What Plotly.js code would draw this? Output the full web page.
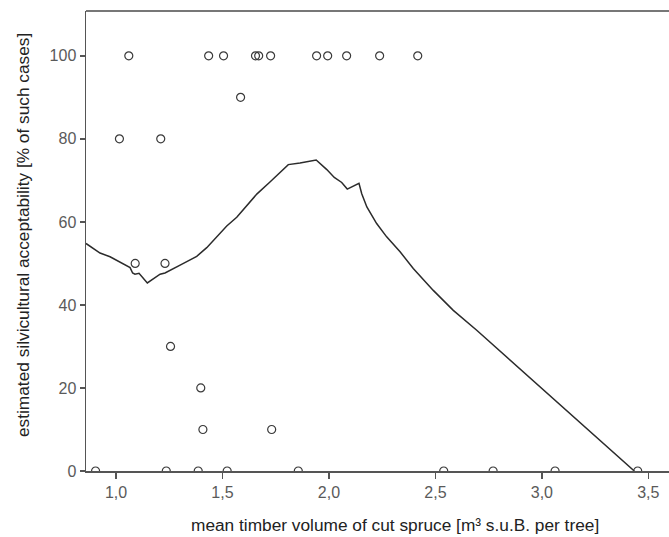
<!DOCTYPE html>
<html>
<head>
<meta charset="utf-8">
<script src="https://cdn.plot.ly/plotly-3.0.1.min.js"></script>
<style>html,body{margin:0;padding:0;background:#fff;}#chart{width:669px;height:537px;}</style>
</head>
<body>
<div id="chart"></div>
<script>
// observed cases: mean timber volume vs. acceptability
const pointVolume = [1.06, 1.435, 1.505, 1.655, 1.67, 1.726, 1.942, 1.994, 2.083, 2.238, 2.417,
  1.585, 1.016, 1.21, 1.09, 1.23, 1.256, 1.398, 1.408, 1.731,
  0.904, 1.236, 1.386, 1.522, 1.856, 2.539, 2.771, 3.062, 3.45];
const pointAccept = [100, 100, 100, 100, 100, 100, 100, 100, 100, 100, 100,
  90, 80, 80, 50, 50, 30, 20, 10, 10,
  0, 0, 0, 0, 0, 0, 0, 0, 0];

// fitted (smoothed) curve
const fitVolume = [0.859, 0.925, 0.972, 1.034, 1.066, 1.078, 1.089, 1.108, 1.117, 1.147, 1.207, 1.230,
  1.301, 1.379, 1.426, 1.473, 1.520, 1.567, 1.614, 1.661, 1.723, 1.809, 1.864, 1.940, 1.990, 2.025,
  2.060, 2.086, 2.141, 2.154, 2.178, 2.224, 2.271, 2.334, 2.396, 2.490, 2.584, 2.694, 3.434];
const fitAccept = [54.8, 52.5, 51.6, 50.0, 49.0, 47.7, 47.4, 47.6, 47.1, 45.3, 47.4, 47.7,
  49.6, 51.7, 53.8, 56.4, 59.0, 61.1, 63.8, 66.7, 69.6, 73.8, 74.2, 74.9, 72.6, 70.7,
  69.5, 67.9, 69.3, 66.8, 63.6, 59.6, 56.4, 52.8, 48.8, 43.5, 38.7, 33.9, 0.0];

const xTicks = [1.0, 1.5, 2.0, 2.5, 3.0, 3.5];
const yTicks = [0, 20, 40, 60, 80, 100];
const xTitle = 'mean timber volume of cut spruce [m³ s.u.B. per tree]';
const yTitle = 'estimated silvicultural acceptability [% of such cases]';

const traces = [
  {
    x: fitVolume, y: fitAccept, type: 'scatter', mode: 'lines',
    line: {color: '#2b2b2b', width: 1.5}, hoverinfo: 'skip', showlegend: false
  },
  {
    x: pointVolume, y: pointAccept, type: 'scatter', mode: 'markers',
    marker: {symbol: 'circle-open', size: 8, color: '#3a3a3a', line: {width: 1.2, color: '#3a3a3a'}},
    showlegend: false
  }
];

const tickFont = {family: 'Liberation Sans, Arial, sans-serif', size: 16, color: '#5a5a5a'};
const titleFont = {family: 'Liberation Sans, Arial, sans-serif', size: 17.3, color: '#222222'};

const layout = {
  width: 669, height: 537,
  margin: {l: 86, r: 0, t: 11, b: 66, pad: 0},
  paper_bgcolor: '#ffffff', plot_bgcolor: '#ffffff',
  separators: ',.',
  xaxis: {
    range: [0.859, 3.597], tickvals: xTicks, tickformat: '.1f',
    ticks: 'outside', ticklen: 6, tickwidth: 1.5, tickcolor: '#555555',
    showline: true, linecolor: '#555555', linewidth: 1.5,
    showgrid: false, zeroline: false, tickfont: tickFont, automargin: false
  },
  yaxis: {
    range: [0, 110.8], tickvals: yTicks,
    ticks: 'outside', ticklen: 5, tickwidth: 1.5, tickcolor: '#555555',
    showline: true, linecolor: '#555555', linewidth: 1.5,
    showgrid: false, zeroline: false, tickfont: tickFont, automargin: false
  },
  annotations: [
    {text: xTitle, xref: 'paper', yref: 'paper', x: 0.530, y: -0.117,
     xanchor: 'center', yanchor: 'middle', showarrow: false, font: titleFont},
    {text: yTitle, xref: 'paper', yref: 'paper', x: -0.108, y: 0.513, textangle: -90,
     xanchor: 'center', yanchor: 'middle', showarrow: false, font: titleFont}
  ],
  shapes: [
    {type: 'line', xref: 'paper', yref: 'paper', x0: 0, x1: 1, y0: 1, y1: 1,
     line: {color: '#777777', width: 2}}
  ]
};

Plotly.newPlot('chart', traces, layout, {displayModeBar: false, staticPlot: true});
</script>
</body>
</html>
